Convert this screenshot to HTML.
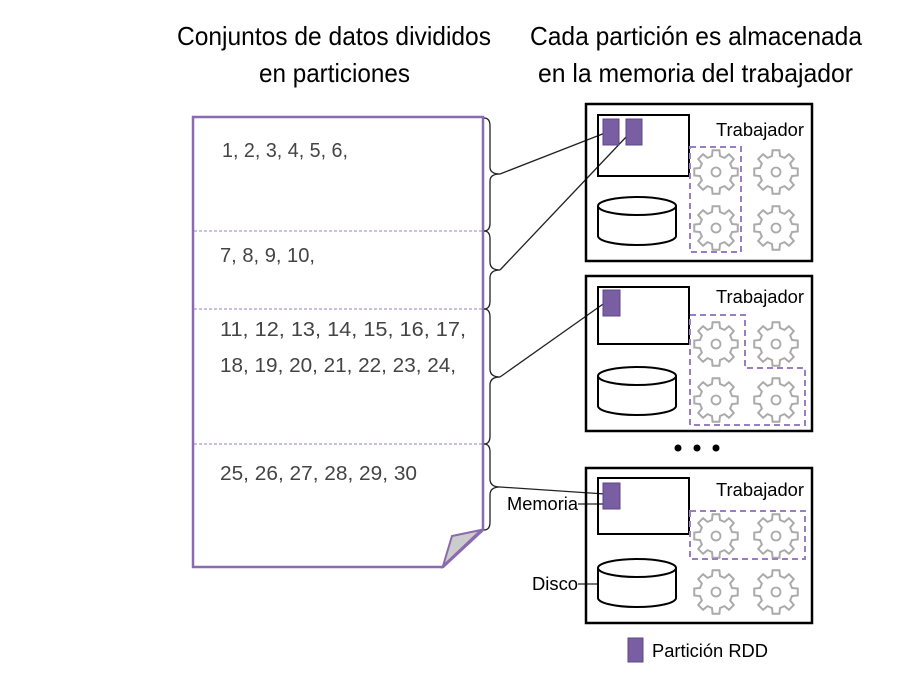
<!DOCTYPE html>
<html><head><meta charset="utf-8"><style>body{margin:0;background:#fff}svg{display:block}</style></head><body>
<svg width="900" height="675" viewBox="0 0 900 675" xmlns="http://www.w3.org/2000/svg" font-family="Liberation Sans, sans-serif">
<defs>
<g id="gear"><path transform="scale(1.1)" d="M14.55,-3.63 L19.76,-3.12 L19.76,3.12 L14.55,3.63 L12.86,7.73 L16.18,11.76 L11.76,16.18 L7.73,12.86 L3.63,14.55 L3.12,19.76 L-3.12,19.76 L-3.63,14.55 L-7.73,12.86 L-11.76,16.18 L-16.18,11.76 L-12.86,7.73 L-14.55,3.63 L-19.76,3.12 L-19.76,-3.12 L-14.55,-3.63 L-12.86,-7.73 L-16.18,-11.76 L-11.76,-16.18 L-7.73,-12.86 L-3.63,-14.55 L-3.12,-19.76 L3.12,-19.76 L3.63,-14.55 L7.73,-12.86 L11.76,-16.18 L16.18,-11.76 L12.86,-7.73 Z" fill="#fff" stroke="#aaa" stroke-width="1.8"/><circle r="4.5" fill="none" stroke="#aaa" stroke-width="1.8"/></g>
<g id="cyl"><path d="M0,12 L0,42 A39,9 0 0 0 78,42 L78,12" fill="#fff" stroke="#000" stroke-width="2"/><ellipse cx="39" cy="12" rx="39" ry="9" fill="#fff" stroke="#000" stroke-width="2"/></g>
</defs>
<g font-size="26" fill="#000" lengthAdjust="spacingAndGlyphs">
<text x="177" y="45" textLength="314" lengthAdjust="spacingAndGlyphs">Conjuntos de datos divididos</text>
<text x="259" y="82" textLength="151" lengthAdjust="spacingAndGlyphs">en particiones</text>
<text x="530" y="45" textLength="332" lengthAdjust="spacingAndGlyphs">Cada partición es almacenada</text>
<text x="538" y="82" textLength="315" lengthAdjust="spacingAndGlyphs">en la memoria del trabajador</text>
</g>
<path d="M193,117 L483,117 L483,530 L443,567 L193,567 Z" fill="#fff" stroke="#8a6bb0" stroke-width="2.5"/>
<polygon points="452,536 481,530 443,566" fill="#ccc" stroke="#8a6bb0" stroke-width="2"/>
<g stroke="#9a80c0" stroke-width="1" stroke-dasharray="3,2"><line x1="194" y1="231" x2="482" y2="231"/><line x1="194" y1="309" x2="482" y2="309"/><line x1="194" y1="444" x2="482" y2="444"/></g>
<g font-size="20" fill="#444">
<text x="222" y="157" textLength="126" lengthAdjust="spacingAndGlyphs">1, 2, 3, 4, 5, 6,</text>
<text x="220" y="262" textLength="95" lengthAdjust="spacingAndGlyphs">7, 8, 9, 10,</text>
<text x="220" y="336" textLength="246" lengthAdjust="spacingAndGlyphs">11, 12, 13, 14, 15, 16, 17,</text>
<text x="220" y="372" textLength="236" lengthAdjust="spacingAndGlyphs">18, 19, 20, 21, 22, 23, 24,</text>
<text x="220" y="480" textLength="197" lengthAdjust="spacingAndGlyphs">25, 26, 27, 28, 29, 30</text>
</g>
<g fill="none" stroke="#222" stroke-width="1.3">
<path d="M484,118 Q490,118 490,126 L490,167 Q490,174 500,174 Q490,174 490,181 L490,223 Q490,231 484,231"/>
<path d="M484,231 Q490,231 490,239 L490,262 Q490,270 500,270 Q490,270 490,278 L490,301 Q490,309 484,309"/>
<path d="M484,309 Q490,309 490,317 L490,369 Q490,377 500,377 Q490,377 490,385 L490,436 Q490,444 484,444"/>
<path d="M484,444 Q490,444 490,452 L490,479 Q490,487 500,487 Q490,487 490,495 L490,522 Q490,530 484,530"/>
<line x1="500" y1="174" x2="605" y2="133"/>
<line x1="500" y1="270" x2="627" y2="136"/>
<line x1="500" y1="377" x2="606" y2="302"/>
<line x1="500" y1="487" x2="605" y2="494"/>
<line x1="578" y1="504" x2="603" y2="504"/>
<line x1="578" y1="584" x2="598" y2="584"/>
</g>
<g fill="none" stroke="#000" stroke-width="2.5">
<rect x="586" y="104" width="226" height="157"/>
<rect x="586" y="276" width="226" height="155"/>
<rect x="586" y="468" width="226" height="155"/>
<rect x="598" y="115" width="91" height="61" stroke-width="2"/>
<rect x="598" y="287" width="91" height="57" stroke-width="2"/>
<rect x="598" y="478" width="91" height="56" stroke-width="2"/>
</g>
<g fill="#7a5ea3" stroke="#5f4585" stroke-width="1">
<rect x="603" y="119" width="16" height="26"/><rect x="626" y="119" width="16" height="26"/>
<rect x="603" y="290" width="17" height="26"/>
<rect x="603" y="483" width="17" height="26"/>
<rect x="628" y="638" width="15" height="24"/>
</g>
<use href="#cyl" x="598" y="194"/>
<use href="#cyl" x="598" y="364"/>
<use href="#cyl" x="598" y="556"/>
<use href="#gear" x="716" y="172"/><use href="#gear" x="776" y="172"/><use href="#gear" x="716" y="228"/><use href="#gear" x="776" y="228"/>
<use href="#gear" x="716" y="344"/><use href="#gear" x="776" y="344"/><use href="#gear" x="716" y="400"/><use href="#gear" x="776" y="400"/>
<use href="#gear" x="716" y="536"/><use href="#gear" x="776" y="536"/><use href="#gear" x="716" y="592"/><use href="#gear" x="776" y="592"/>
<g fill="none" stroke="#9a7ec4" stroke-width="2" stroke-dasharray="6,4">
<rect x="690" y="147" width="51" height="105"/>
<path d="M690,315 L745,315 L745,368 L805,368 L805,425 L690,425 Z"/>
<rect x="690" y="511" width="115" height="48"/>
</g>
<g font-size="18" fill="#000">
<text x="716" y="136" textLength="88" lengthAdjust="spacingAndGlyphs">Trabajador</text>
<text x="716" y="303" textLength="88" lengthAdjust="spacingAndGlyphs">Trabajador</text>
<text x="716" y="496" textLength="88" lengthAdjust="spacingAndGlyphs">Trabajador</text>
<text x="507" y="510" textLength="71" lengthAdjust="spacingAndGlyphs">Memoria</text>
<text x="532" y="590" textLength="46" lengthAdjust="spacingAndGlyphs">Disco</text>
<text x="652" y="657" textLength="116" lengthAdjust="spacingAndGlyphs">Partición RDD</text>
</g>
<g fill="#000"><circle cx="678" cy="448" r="3.5"/><circle cx="697" cy="448" r="3.5"/><circle cx="716" cy="448" r="3.5"/></g>
</svg>
</body></html>
